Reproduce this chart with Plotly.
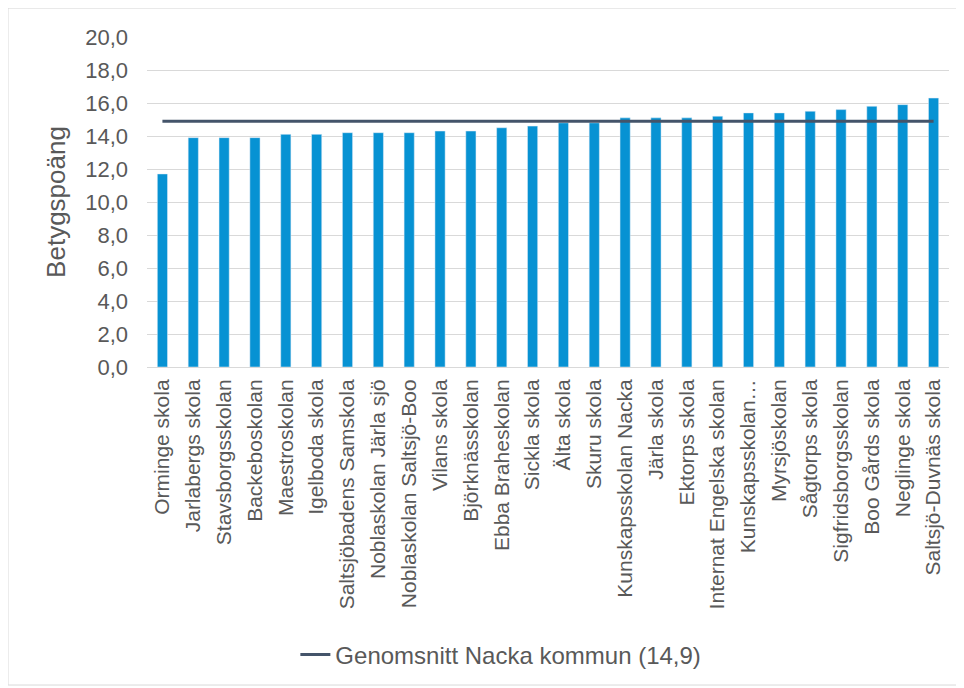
import plotly.graph_objects as go

schools = [
    "Orminge skola",
    "Jarlabergs skola",
    "Stavsborgsskolan",
    "Backeboskolan",
    "Maestroskolan",
    "Igelboda skola",
    "Saltsjöbadens Samskola",
    "Noblaskolan Järla sjö",
    "Noblaskolan Saltsjö-Boo",
    "Vilans skola",
    "Björknässkolan",
    "Ebba Braheskolan",
    "Sickla skola",
    "Älta skola",
    "Skuru skola",
    "Kunskapsskolan Nacka",
    "Järla skola",
    "Ektorps skola",
    "Internat Engelska skolan",
    "Kunskapsskolan…",
    "Myrsjöskolan",
    "Sågtorps skola",
    "Sigfridsborgsskolan",
    "Boo Gårds skola",
    "Neglinge skola",
    "Saltsjö-Duvnäs skola",
]
scores = [
    11.7, 13.9, 13.9, 13.9, 14.1, 14.1, 14.2, 14.2, 14.2, 14.3, 14.3, 14.5, 14.6,
    14.8, 14.8, 15.1, 15.1, 15.1, 15.2, 15.4, 15.4, 15.5, 15.6, 15.8, 15.9, 16.3,
]
kommun_mean = 14.9
mean_label = "Genomsnitt Nacka kommun (14,9)"

grey_text = "#595959"

fig = go.Figure()
fig.add_trace(
    go.Bar(
        x=schools,
        y=scores,
        marker_color="#0792D3",
        width=0.33,
        showlegend=False,
        hoverinfo="x+y",
    )
)
fig.add_trace(
    go.Scatter(
        x=schools,
        y=[kommun_mean] * len(schools),
        mode="lines",
        line=dict(color="#44546A", width=3),
        name=mean_label,
    )
)

fig.update_xaxes(
    tickangle=-90,
    tickfont=dict(size=21, color=grey_text),
    ticklabelstandoff=3,
    showgrid=False,
    showline=True,
    linecolor="#D9D9D9",
    linewidth=1,
    ticks="",
)
fig.update_yaxes(
    range=[0, 20],
    dtick=2,
    tickformat=".1f",
    tickfont=dict(size=22, color=grey_text),
    ticklabelstandoff=18,
    showgrid=True,
    gridcolor="#D9D9D9",
    gridwidth=1,
    zeroline=False,
    ticks="",
    title=dict(text="Betygspoäng", font=dict(size=26, color=grey_text), standoff=12),
)

# the page body adds an 8px margin, so the figure is drawn 8px in from the top-left
fig.update_layout(
    width=956,
    height=680,
    separators=", ",
    font=dict(family="Liberation Sans, Arial, sans-serif", color=grey_text),
    plot_bgcolor="white",
    paper_bgcolor="white",
    bargap=0.67,
    margin=dict(l=139, r=15, t=29, b=320),
    legend=dict(
        orientation="h",
        x=0.185,
        xanchor="left",
        y=-0.867,
        yanchor="middle",
        font=dict(size=24, color=grey_text),
    ),
    shapes=[
        dict(
            type="rect",
            xref="paper",
            yref="paper",
            x0=(0 - 139) / 802,
            x1=(952 - 139) / 802,
            y0=(360 - 679) / 331,
            y1=(360 - 0) / 331,
            line=dict(color="#D9D9D9", width=1),
            layer="below",
        )
    ],
)

fig.write_html("out.html")
